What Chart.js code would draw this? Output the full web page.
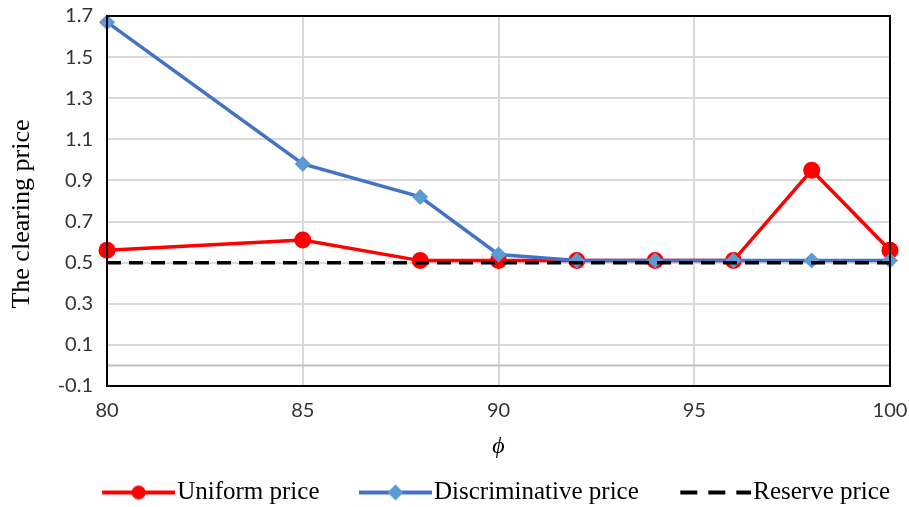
<!DOCTYPE html>
<html>
<head>
<meta charset="utf-8">
<script src="https://cdn.jsdelivr.net/npm/chart.js@4"></script>
<style>
  html, body { margin: 0; padding: 0; background: #fff; }
  #wrap { width: 909px; height: 507px; }
</style>
</head>
<body>
<div id="wrap"><canvas id="priceChart" width="909" height="507"></canvas></div>
<script>
// data
var phi = [80, 85, 88, 90, 92, 94, 96, 98, 100];
var uniformPrice = [0.56, 0.61, 0.51, 0.51, 0.51, 0.51, 0.51, 0.95, 0.56];
var discriminativePrice = [1.67, 0.98, 0.82, 0.54, 0.51, 0.51, 0.51, 0.51, 0.51];
var reservePhi = [80, 100];
var reservePrice = [0.5, 0.5];
var xTicks = [80, 85, 90, 95, 100];
var yMin = -0.1, yMax = 1.7, yStep = 0.2;

var legendFontSize = 25;
var legendBoxWidth = 102;

function toPoints(xs, ys) {
    return xs.map(function (x, i) { return { x: x, y: ys[i] }; });
}

// legend pictures: line with a marker, drawn at the right end of a wider canvas
// so that the transparent left part gives the gap between legend items
function legendIcon(kind) {
    var c = document.createElement('canvas');
    c.width = legendBoxWidth + legendFontSize - 4;
    c.height = 20;
    var g = c.getContext('2d');
    var x0 = c.width - 73, x1 = c.width, mid = (x0 + x1) / 2, cy = 10;
    if (kind === 'dash') {
        g.strokeStyle = '#000';
        g.lineWidth = 4;
        g.setLineDash([17, 11]);
        g.beginPath(); g.moveTo(x0 + 2, cy); g.lineTo(x1, cy); g.stroke();
        return c;
    }
    g.lineWidth = 4;
    g.strokeStyle = kind === 'circle' ? '#ff0000' : '#4472c4';
    g.beginPath(); g.moveTo(x0, cy); g.lineTo(x1, cy); g.stroke();
    if (kind === 'circle') {
        g.fillStyle = '#ff0000';
        g.beginPath(); g.arc(mid, cy, 7, 0, Math.PI * 2); g.fill();
    } else {
        g.fillStyle = '#5b9bd5';
        g.beginPath(); g.moveTo(mid, cy - 8); g.lineTo(mid + 8, cy); g.lineTo(mid, cy + 8); g.lineTo(mid - 8, cy); g.closePath(); g.fill();
    }
    return c;
}
var legendIcons = [legendIcon('circle'), legendIcon('diamond'), legendIcon('dash')];

// zero line and the black frame round the plot
var framePlugin = {
    id: 'frame',
    beforeDatasetsDraw: function (chart) {
        var ctx = chart.ctx, a = chart.chartArea;
        var y0 = chart.scales.y.getPixelForValue(0);
        ctx.save();
        ctx.strokeStyle = '#bfbfbf';
        ctx.lineWidth = 2;
        ctx.beginPath(); ctx.moveTo(a.left, y0); ctx.lineTo(a.right, y0); ctx.stroke();
        ctx.restore();
    },
    afterDatasetsDraw: function (chart) {
        var ctx = chart.ctx, a = chart.chartArea;
        ctx.save();
        ctx.strokeStyle = '#000';
        ctx.lineWidth = 2;
        ctx.strokeRect(a.left, a.top, a.right - a.left, a.bottom - a.top);
        ctx.restore();
    }
};

var ctx = document.getElementById('priceChart').getContext('2d');
var priceChart = new Chart(ctx, {
    type: 'line',
    data: {
        datasets: [{
            label: 'Uniform price',
            data: toPoints(phi, uniformPrice),
            borderColor: '#ff0000',
            backgroundColor: '#ff0000',
            borderWidth: 3.5,
            pointStyle: 'circle',
            pointRadius: 8.5,
            pointBorderWidth: 0,
            order: 3,
            clip: false
        }, {
            label: 'Discriminative price',
            data: toPoints(phi, discriminativePrice),
            borderColor: '#4472c4',
            backgroundColor: '#5b9bd5',
            borderWidth: 3.5,
            pointStyle: 'rectRot',
            pointRadius: 8,
            pointBorderWidth: 0,
            order: 2,
            clip: false
        }, {
            label: 'Reserve price',
            data: toPoints(reservePhi, reservePrice),
            borderColor: '#000',
            backgroundColor: '#000',
            borderWidth: 3.5,
            borderDash: [14, 8],
            pointRadius: 0,
            order: 1,
            clip: false
        }]
    },
    options: {
        responsive: false,
        animation: false,
        layout: { padding: { top: 16, right: 19, left: 4, bottom: -8 } },
        plugins: {
            tooltip: { enabled: false },
            legend: {
                position: 'bottom',
                align: 'end',
                labels: {
                    usePointStyle: true,
                    pointStyleWidth: legendBoxWidth,
                    padding: 0,
                    color: '#000',
                    font: { family: 'Liberation Serif', size: legendFontSize },
                    generateLabels: function (chart) {
                        return chart.data.datasets.map(function (ds, i) {
                            return {
                                text: ds.label,
                                pointStyle: legendIcons[i],
                                fillStyle: ds.borderColor,
                                strokeStyle: ds.borderColor,
                                lineWidth: 0,
                                datasetIndex: i,
                                hidden: false
                            };
                        });
                    }
                }
            }
        },
        scales: {
            x: {
                type: 'linear',
                min: 80,
                max: 100,
                afterBuildTicks: function (scale) {
                    scale.ticks = xTicks.map(function (v) { return { value: v }; });
                },
                grid: { color: '#d9d9d9', lineWidth: 2, drawTicks: false },
                border: { display: false },
                ticks: {
                    padding: 13,
                    color: '#333',
                    font: { family: 'Lato', size: 20 }
                },
                title: {
                    display: true,
                    text: 'ϕ',
                    color: '#000',
                    padding: { top: 0, bottom: 19 },
                    font: { family: 'Liberation Serif', size: 24, style: 'italic' }
                },
                afterFit: function (scale) {
                    scale.height = 94;
                    scale.paddingLeft = 0;
                    scale.paddingRight = 0;
                }
            },
            y: {
                min: yMin,
                max: yMax,
                ticks: {
                    stepSize: yStep,
                    padding: 14,
                    color: '#333',
                    font: { family: 'Lato', size: 20 },
                    callback: function (v) { return v.toFixed(1); }
                },
                grid: { color: '#d9d9d9', lineWidth: 2, drawTicks: false },
                border: { display: false },
                title: {
                    display: true,
                    // trailing spaces push the words a little below the axis middle, as in the original
                    text: 'The clearing price    ',
                    color: '#000',
                    padding: { top: 3, bottom: 0 },
                    font: { family: 'Liberation Serif', size: 26 }
                },
                afterFit: function (scale) {
                    scale.width = 103;
                    scale.paddingTop = 0;
                    scale.paddingBottom = 0;
                }
            }
        }
    },
    plugins: [framePlugin]
});
</script>
</body>
</html>
